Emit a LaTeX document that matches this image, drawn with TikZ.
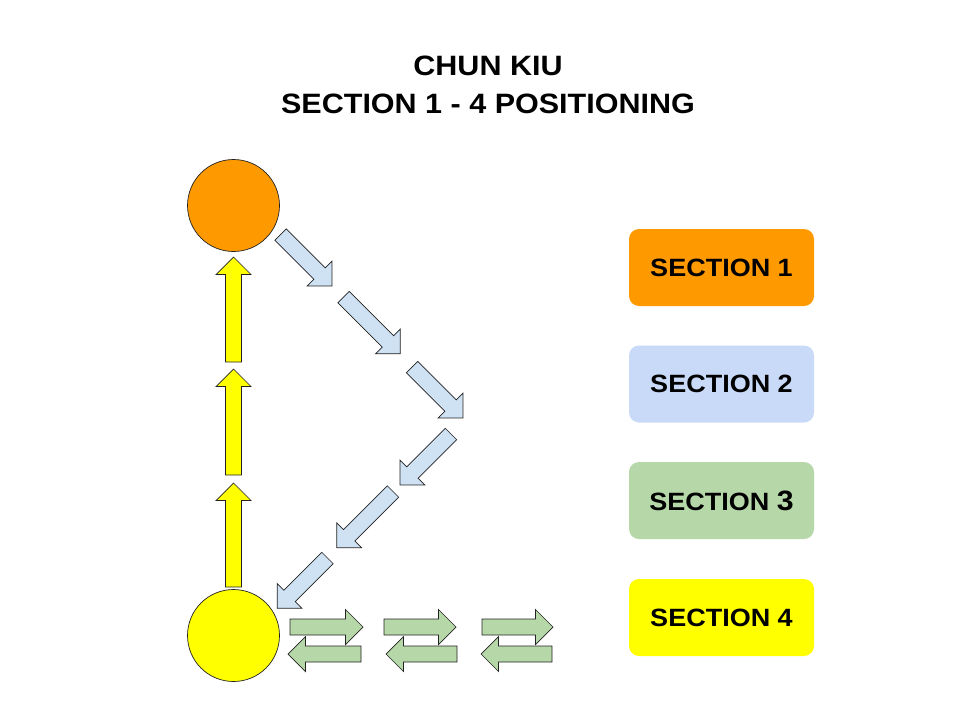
\documentclass[tikz,border=0pt]{standalone}
\usepackage{graphicx}
\usepackage{fontspec}
\setmainfont{Liberation Sans}
\definecolor{sorange}{HTML}{FF9900}
\definecolor{syellow}{HTML}{FFFF00}
\definecolor{sblue}{HTML}{C9DAF8}
\definecolor{ablue}{HTML}{CFE2F3}
\definecolor{sgreen}{HTML}{B6D7A8}
\definecolor{edgec}{HTML}{222222}
\tikzset{
  barrow/.pic={\path[pic actions] (0,-8) -- ({#1-17.5},-8) -- ({#1-17.5},-17.5) -- (#1,0) -- ({#1-17.5},17.5) -- ({#1-17.5},8) -- (0,8) -- cycle;},
  yarrow/.style={draw=edgec, fill=syellow, line width=0.7pt},
  barr/.style={draw=edgec, fill=ablue, line width=0.7pt},
  garr/.style={draw=edgec, fill=sgreen, line width=0.7pt},
  spot/.style={circle, draw=edgec, line width=0.7pt, minimum size=92pt, inner sep=0pt},
  sbox/.style={rounded corners=10pt, minimum width=185pt, minimum height=77pt, inner sep=0pt, font=\fontsize{25}{30}\selectfont\bfseries},
  ttl/.style={anchor=base, inner sep=0pt, font=\fontsize{28}{34}\selectfont\bfseries}
}
\begin{document}
\begin{tikzpicture}[x=1pt,y=-1pt]
\useasboundingbox[fill=white] (0,0) rectangle (960,720);
% title
\node[ttl] (t1) at (488,75) {\scalebox{1.09}[1]{CHUN KIU}};
\node[ttl] (t2) at (488,113) {\scalebox{1.09}[1]{SECTION 1 - 4 POSITIONING}};
% circles
\node[spot, fill=sorange] (c1) at (233.5,205.5) {};
\node[spot, fill=syellow] (c4) at (233.5,635.5) {};
% yellow arrows (section 4)
\pic[yarrow, rotate=90] (y1) at (233.5,362) {barrow=105};
\pic[yarrow, rotate=90] (y2) at (233.5,475) {barrow=106};
\pic[yarrow, rotate=90] (y3) at (233.5,587) {barrow=104};
% blue arrows (section 2)
\pic[barr, rotate=-45] (b1) at (280.5,234.5) {barrow=72.8};
\pic[barr, rotate=-45] (b2) at (343.5,297) {barrow=80.3};
\pic[barr, rotate=-45] (b3) at (412,367) {barrow=72.1};
\pic[barr, rotate=-135] (b4) at (451,434) {barrow=72.1};
\pic[barr, rotate=-135] (b5) at (393,491.5) {barrow=79.5};
\pic[barr, rotate=-135] (b6) at (327.5,558) {barrow=71.1};
% green arrows (section 3)
\pic[garr] (g1) at (290,627) {barrow=73};
\pic[garr, rotate=180] (g2) at (361,654) {barrow=73};
\pic[garr] (g3) at (384,627) {barrow=72};
\pic[garr, rotate=180] (g4) at (457,654) {barrow=71};
\pic[garr] (g5) at (482,627) {barrow=71};
\pic[garr, rotate=180] (g6) at (552,654) {barrow=71};
% legend
\node[sbox, fill=sorange] (s1) at (721.5,267.5) {\scalebox{1.08}[1]{SECTION 1}};
\node[sbox, fill=sblue] (s2) at (721.5,384) {\scalebox{1.08}[1]{SECTION 2}};
\node[sbox, fill=sgreen] (s3) at (721.5,500.5) {\scalebox{1.08}[1]{SECTION {\fontsize{28}{30}\selectfont 3}}};
\node[sbox, fill=syellow] (s4) at (721.5,617.5) {\scalebox{1.08}[1]{SECTION 4}};
\end{tikzpicture}
\end{document}
